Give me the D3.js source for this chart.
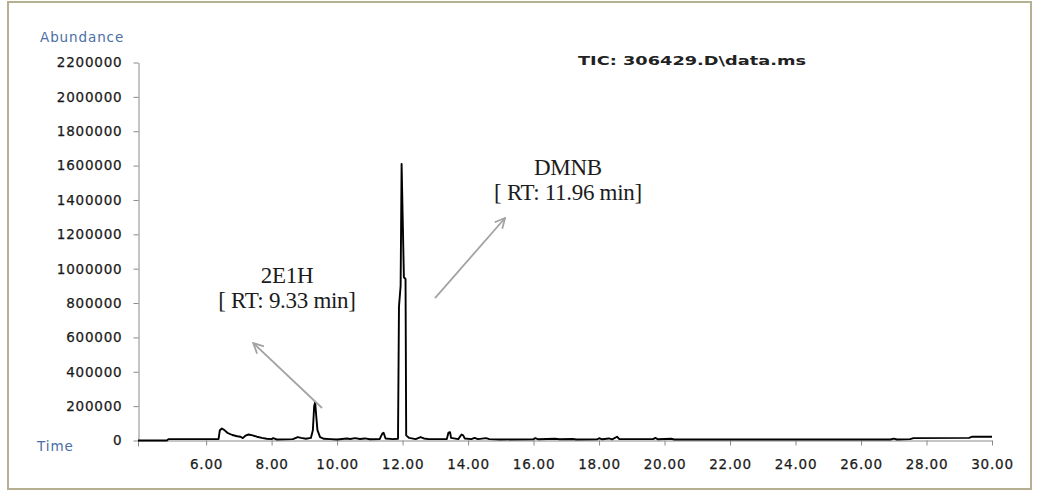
<!DOCTYPE html>
<html>
<head>
<meta charset="utf-8">
<script src="https://cdn.jsdelivr.net/npm/d3@7/dist/d3.min.js"></script>
<style>
  body { margin: 0; background: #fff; }
  svg { display: block; }
</style>
</head>
<body>
<svg id="chart"></svg>
<script>
// retention time (min) and abundance
var times = [3.92, 4.80, 4.85, 6.38, 6.42, 6.48, 6.55, 6.65, 6.80, 6.95, 7.05, 7.12, 7.20, 7.30, 7.42, 7.55, 7.70, 7.85, 8.00, 8.05, 8.15,
  8.65, 8.80, 8.90, 9.05, 9.20, 9.26, 9.30, 9.33, 9.36, 9.40, 9.48, 9.60, 9.80, 10.00, 10.30, 10.40, 10.55, 10.70, 10.85, 11.00,
  11.30, 11.38, 11.42, 11.48, 11.70, 11.86, 11.89, 11.94, 11.97, 12.04, 12.09, 12.11, 12.20, 12.40, 12.55, 12.65, 12.80,
  13.35, 13.40, 13.45, 13.48, 13.70, 13.80, 13.85, 13.90, 14.10, 14.20, 14.30, 14.55, 14.65, 15.00, 16.00, 16.05, 16.15,
  16.65, 16.80, 17.20, 17.30, 17.95, 18.00, 18.10, 18.30, 18.40, 18.55, 18.62, 19.65, 19.72, 19.80, 20.20, 20.30,
  26.90, 27.00, 27.10, 27.50, 27.60, 29.30, 29.40, 29.95, 30.00];
var abundance = [0, 0, 8000, 8000, 60000, 70000, 62000, 45000, 32000, 25000, 22000, 14000, 28000, 35000, 30000, 22000, 15000, 10000, 8000, 14000, 6000,
  8000, 20000, 15000, 10000, 15000, 60000, 200000, 222000, 150000, 60000, 20000, 10000, 8000, 6000, 12000, 9000, 14000, 9000, 12000, 7000,
  8000, 40000, 45000, 12000, 8000, 10000, 780000, 900000, 1610000, 950000, 940000, 30000, 15000, 8000, 20000, 12000, 8000,
  8000, 45000, 48000, 15000, 8000, 35000, 30000, 12000, 8000, 15000, 8000, 14000, 8000, 6000, 7000, 14000, 7000,
  10000, 7000, 9000, 6000, 7000, 13000, 7000, 12000, 7000, 22000, 8000, 8000, 15000, 7000, 10000, 6000,
  6000, 11000, 6000, 8000, 14000, 15000, 22000, 22000, 22000];

var yTicks = [0, 200000, 400000, 600000, 800000, 1000000, 1200000, 1400000, 1600000, 1800000, 2000000, 2200000];
var xTicks = [6, 8, 10, 12, 14, 16, 18, 20, 22, 24, 26, 28, 30];

// peak labels: text anchor and arrow in data units (time, abundance)
var peakNames = ["2E1H", "DMNB"];
var peakRT = ["[ RT: 9.33 min]", "[ RT: 11.96 min]"];
var labelPos = [[8.47, 917000], [17.05, 1545000]];
var arrowFrom = [[9.54, 189000], [12.99, 829000]];
var arrowTo = [[7.44, 567000], [15.13, 1295000]];

var width = 1039, height = 491;
var blue = "#4a6ea6";

var svg = d3.select("#chart").attr("width", width).attr("height", height);

// outer frame
svg.append("rect")
  .attr("x", 8).attr("y", 2).attr("width", 1023).attr("height", 487)
  .attr("fill", "none").attr("stroke", "#b5b08f").attr("stroke-width", 2);

var x = d3.scaleLinear().domain([3.92, 30]).range([138, 992]);
var y = d3.scaleLinear().domain([0, 2200000]).range([440.5, 62.5]);

var yAxis = svg.append("g")
  .attr("transform", "translate(138.5,0)")
  .call(d3.axisLeft(y).tickValues(yTicks).tickFormat(d3.format("d")).tickSizeInner(5).tickSizeOuter(0).tickPadding(11));

var xAxis = svg.append("g")
  .attr("transform", "translate(0,440.5)")
  .call(d3.axisBottom(x).tickValues(xTicks).tickFormat(d3.format(".2f")).tickSizeInner(5).tickSizeOuter(0).tickPadding(14));

// y axis runs a bit past the baseline
svg.append("line")
  .attr("x1", 138.5).attr("x2", 138.5).attr("y1", y(0)).attr("y2", y(0) + 6)
  .attr("stroke", "#8a8a8a");

[yAxis, xAxis].forEach(function(ax) {
  ax.select(".domain").attr("stroke", "#8a8a8a");
  ax.selectAll(".tick line").attr("stroke", "#8a8a8a");
  ax.selectAll(".tick text")
    .attr("fill", "#1a1a1a")
    .attr("stroke", "#1a1a1a")
    .attr("stroke-width", 0.25)
    .style("font-family", "DejaVu Sans, sans-serif")
    .style("font-size", "13.5px")
    .style("letter-spacing", "0.8px");
});

svg.append("text")
  .attr("x", 40).attr("y", 42)
  .attr("fill", blue)
  .style("font-family", "DejaVu Sans, sans-serif")
  .style("font-size", "13.5px")
  .style("letter-spacing", "0.9px")
  .text("Abundance");

svg.append("text")
  .attr("x", 37).attr("y", 451)
  .attr("fill", blue)
  .style("font-family", "DejaVu Sans, sans-serif")
  .style("font-size", "13.5px")
  .style("letter-spacing", "0.9px")
  .text("Time");

svg.append("text")
  .attr("x", 578).attr("y", 65)
  .attr("fill", "#222")
  .attr("textLength", 228)
  .attr("lengthAdjust", "spacingAndGlyphs")
  .style("font-family", "DejaVu Sans, sans-serif")
  .style("font-weight", "bold")
  .style("font-size", "11.5px")
  .text("TIC: 306429.D\\data.ms");

// chromatogram trace
var trace = times.map(function(t, i) { return [t, abundance[i]]; });
var line = d3.line()
  .x(function(d) { return x(d[0]); })
  .y(function(d) { return y(d[1]); });

svg.append("path")
  .datum(trace)
  .attr("d", line)
  .attr("fill", "none")
  .attr("stroke", "#000")
  .attr("stroke-width", 1.9)
  .attr("stroke-linejoin", "round");

// annotation arrows
svg.append("defs").append("marker")
  .attr("id", "head")
  .attr("viewBox", "0 0 12 12")
  .attr("refX", 11).attr("refY", 6)
  .attr("markerWidth", 12).attr("markerHeight", 12)
  .attr("markerUnits", "userSpaceOnUse")
  .attr("orient", "auto")
  .append("path")
  .attr("d", "M1,1 L11,6 L1,11")
  .attr("fill", "none")
  .attr("stroke", "#a3a3a3")
  .attr("stroke-width", 1.8);

peakNames.forEach(function(name, i) {
  svg.append("line")
    .attr("x1", x(arrowFrom[i][0])).attr("y1", y(arrowFrom[i][1]))
    .attr("x2", x(arrowTo[i][0])).attr("y2", y(arrowTo[i][1]))
    .attr("stroke", "#a3a3a3")
    .attr("stroke-width", 1.8)
    .attr("marker-end", "url(#head)");

  var lbl = svg.append("text")
    .attr("x", x(labelPos[i][0])).attr("y", y(labelPos[i][1]))
    .attr("text-anchor", "middle")
    .attr("fill", "#1c1c1c")
    .style("font-family", "Liberation Serif, serif")
    .style("font-size", "23px")
    .style("letter-spacing", "-0.3px");
  lbl.append("tspan").attr("x", x(labelPos[i][0])).text(name);
  lbl.append("tspan").attr("x", x(labelPos[i][0])).attr("dy", 25).text(peakRT[i]);
});
</script>
</body>
</html>
